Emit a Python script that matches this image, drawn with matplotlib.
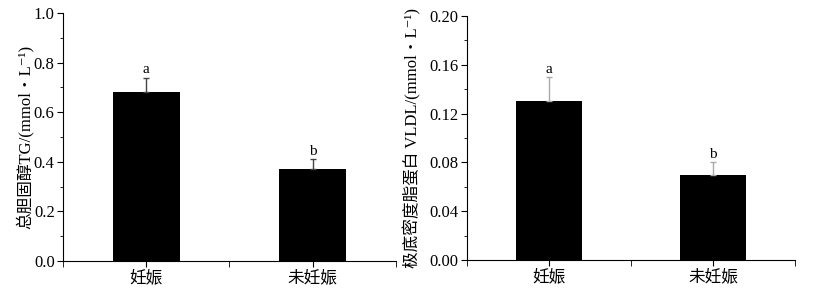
import numpy as np
import matplotlib.pyplot as plt
from matplotlib.ticker import MultipleLocator, FixedLocator

plt.rcParams['font.family'] = ['Liberation Serif', 'Noto Sans CJK SC', 'DejaVu Sans']

# Datos
grupos = ['妊娠', '未妊娠']
tg_media = [0.68, 0.37]
tg_error = [0.06, 0.04]
tg_letras = ['a', 'b']
vldl_media = [0.13, 0.07]
vldl_error = [0.02, 0.01]
vldl_letras = ['a', 'b']

fig = plt.figure(figsize=(8.24, 2.91), dpi=100)
ax1 = fig.add_axes([0.0765, 0.103, 0.404, 0.852])
ax2 = fig.add_axes([0.5667, 0.1065, 0.398, 0.8385])

x = np.arange(1, len(grupos) + 1)


def dibujar(ax, media, error, letras, ymax, paso, ylabel, color_err, desplaz, pad):
    ax.bar(x, media, width=0.4, color='black')
    ax.errorbar(x, media, yerr=[np.zeros(len(error)), error], fmt='none',
                ecolor=color_err, elinewidth=1, capsize=2, capthick=1)
    for xi, m, e, l in zip(x, media, error, letras):
        ax.text(xi, m + e + desplaz, l, ha='center', va='bottom', fontsize=11)
    ax.set_xlim(0.5, 2.5)
    ax.set_ylim(0, ymax)
    ax.yaxis.set_major_locator(MultipleLocator(paso))
    ax.yaxis.set_minor_locator(MultipleLocator(paso / 2))
    ax.set_xticks(x)
    ax.set_xticklabels(grupos, family=['Noto Sans CJK SC'], fontsize=12)
    ax.xaxis.set_minor_locator(FixedLocator([0.5, 1.5, 2.5]))
    ax.spines['top'].set_visible(False)
    ax.spines['right'].set_visible(False)
    ax.tick_params(which='major', direction='out', length=4, labelsize=12, pad=2)
    ax.tick_params(which='minor', direction='out', length=2)
    ax.tick_params(axis='x', which='minor', length=4)
    ax.set_ylabel(ylabel, fontsize=12, labelpad=pad)


dibujar(ax1, tg_media, tg_error, tg_letras, 1.0, 0.2,
        '总胆固醇TG/(mmol・L⁻¹)', '#444444', 0.005, 0)
ax1.yaxis.set_major_formatter(plt.FormatStrFormatter('%.1f'))
dibujar(ax2, vldl_media, vldl_error, vldl_letras, 0.20, 0.04,
        '极底密度脂蛋白 VLDL/(mmol・L⁻¹)', '#aaaaaa', 0.001, 6)
ax2.yaxis.set_major_formatter(plt.FormatStrFormatter('%.2f'))

fig.savefig('out.png', dpi=100)
